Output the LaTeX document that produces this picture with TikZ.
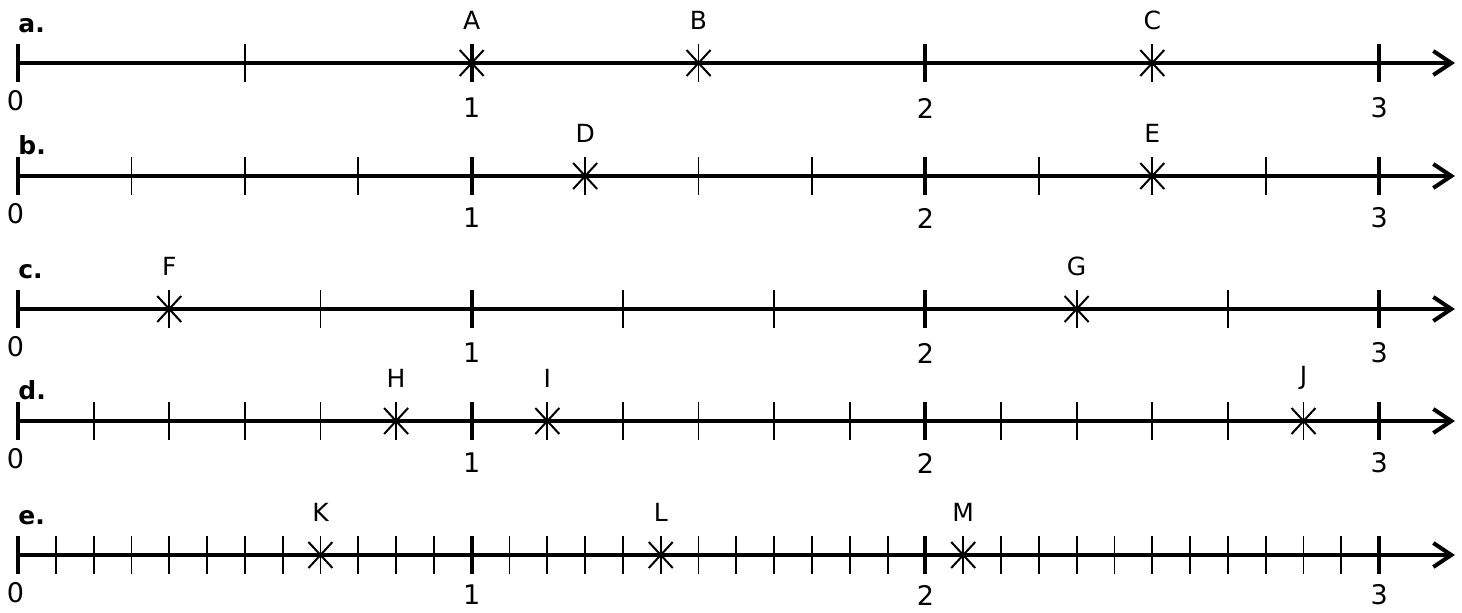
\documentclass[tikz,border=0pt]{standalone}
\usepackage{fontspec}
\setmainfont{DejaVu Sans}
\usetikzlibrary{arrows.meta,shapes.misc}

\tikzset{
  axisline/.style={line width=2pt,-{Straight Barb[length=9pt,width=12pt,line width=2pt]}},
  majortick/.style={line width=2pt},
  minortick/.style={line width=0.9pt},
  starmark/.style={cross out,draw,line width=1pt,minimum width=12pt,minimum height=13pt,inner sep=0pt,outer sep=0pt},
  ptlabel/.style={font=\fontsize{12.5}{13}\selectfont,inner sep=0pt},
  numlabel/.style={font=\fontsize{13.5}{14}\selectfont,inner sep=0pt},
  rowlabel/.style={font=\bfseries\fontsize{12.5}{13}\selectfont,anchor=base west,inner sep=0pt},
}

\begin{document}
\begin{tikzpicture}[x=226.85pt,y=-0.5pt]
  \useasboundingbox (-0.0397,0) rectangle (3.1827,612);
  % number lines: row / y / parts per unit / label offsets
  \foreach \row/\y/\n/\numdy/\rowdy in {a/63/2/45/31, b/176/4/42/22, c/309/3/44/31, d/421/6/42/22, e/555/12/40/31} {
    \coordinate (\row0) at (0,\y);
    \coordinate (\row end) at (3.167,\y);
    \draw[axisline] (\row0) -- (\row end);
    \pgfmathtruncatemacro\last{3*\n}
    \foreach \k in {1,...,\last} \draw[minortick] ({\k/\n},\y-19) -- ({\k/\n},\y+19);
    \foreach \i in {0,...,3} \draw[majortick] (\i,\y-19) -- (\i,\y+19);
    \node[numlabel] (\row num0) at (-0.0055,\y+38) {0};
    \foreach \i in {1,2,3} \node[numlabel] (\row num\i) at (\i,\y+\numdy) {\i};
    \node[rowlabel] (\row lbl) at (0,\y-\rowdy) {\row.};
  }
  % marked points: name / position in twelfths / y
  \foreach \name/\p/\y in {A/12/63, B/18/63, C/30/63, D/15/176, E/30/176, F/4/309, G/28/309,
                           H/10/421, I/14/421, J/34/421, K/8/555, L/17/555, M/25/555} {
    \node[starmark] (\name) at ({\p/12},\y) {};
    \node[ptlabel] (\name txt) at ({\p/12},\y-43) {\name};
  }
\end{tikzpicture}
\end{document}
